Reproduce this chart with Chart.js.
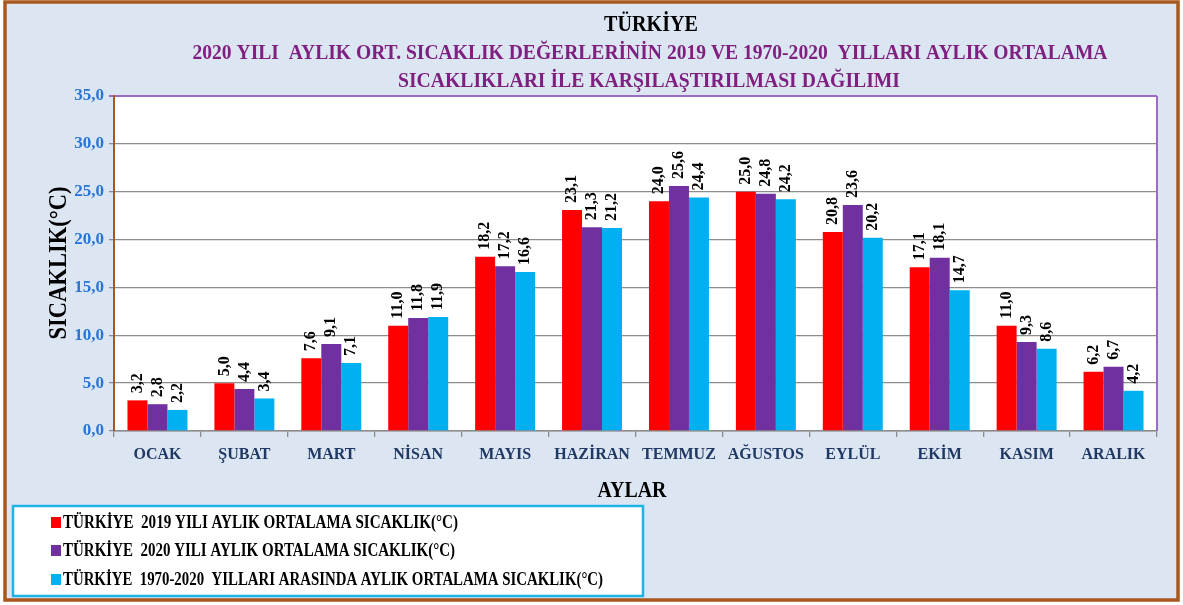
<!DOCTYPE html>
<html>
<head>
<meta charset="utf-8">
<script src="https://cdn.jsdelivr.net/npm/chart.js@4/dist/chart.umd.min.js"></script>
<style>
html,body{margin:0;padding:0;background:#fff;}
canvas{display:block;}
</style>
</head>
<body>
<canvas id="c" width="1183" height="605"></canvas>
<script>
const categories = ['OCAK','ŞUBAT','MART','NİSAN','MAYIS','HAZİRAN','TEMMUZ','AĞUSTOS','EYLÜL','EKİM','KASIM','ARALIK'];
const values2019 = [3.2,5.0,7.6,11.0,18.2,23.1,24.0,25.0,20.8,17.1,11.0,6.2];
const values2020 = [2.8,4.4,9.1,11.8,17.2,21.3,25.6,24.8,23.6,18.1,9.3,6.7];
const valuesNormal = [2.2,3.4,7.1,11.9,16.6,21.2,24.4,24.2,20.2,14.7,8.6,4.2];
const seriesNames = [
  'TÜRKİYE  2019 YILI AYLIK ORTALAMA SICAKLIK(°C)',
  'TÜRKİYE  2020 YILI AYLIK ORTALAMA SICAKLIK(°C)',
  'TÜRKİYE  1970-2020  YILLARI ARASINDA AYLIK ORTALAMA SICAKLIK(°C)'
];
const seriesColors = ['#ff0000','#7030a0','#00b0f0'];
const titleMain = 'TÜRKİYE';
const titleLine1 = '2020 YILI  AYLIK ORT. SICAKLIK DEĞERLERİNİN 2019 VE 1970-2020  YILLARI AYLIK ORTALAMA';
const titleLine2 = 'SICAKLIKLARI İLE KARŞILAŞTIRILMASI DAĞILIMI';
const yTitle = 'SICAKLIK(°C)';
const xTitle = 'AYLAR';

const SERIF = '"Liberation Serif", "Times New Roman", serif';
const fmt = v => v.toFixed(1).replace('.', ',');

function drawFit(ctx, text, x, y, font, width, color, align, rot) {
  ctx.save();
  ctx.font = font;
  ctx.fillStyle = color;
  ctx.textBaseline = 'middle';
  ctx.textAlign = align || 'center';
  const w = ctx.measureText(text).width;
  ctx.translate(x, y);
  if (rot) ctx.rotate(rot);
  ctx.scale(width / w, 1);
  ctx.fillText(text, 0, 0);
  ctx.restore();
}

const framePlugin = {
  id: 'frame',
  beforeDraw(chart) {
    const ctx = chart.ctx, a = chart.chartArea;
    ctx.save();
    ctx.fillStyle = '#ffffff';
    ctx.fillRect(0, 0, chart.width, chart.height);
    ctx.fillStyle = '#dce6f2';
    ctx.fillRect(5, 2, 1173, 598);
    ctx.strokeStyle = '#a9571c';
    ctx.lineWidth = 3.5;
    ctx.strokeRect(5, 2, 1173, 598);
    ctx.fillStyle = '#ffffff';
    ctx.fillRect(a.left, a.top, a.right - a.left, a.bottom - a.top);
    ctx.restore();
  },
  afterDatasetsDraw(chart) {
    const ctx = chart.ctx;
    ctx.save();
    ctx.font = 'bold 16px ' + SERIF;
    ctx.fillStyle = '#000';
    ctx.textAlign = 'left';
    ctx.textBaseline = 'middle';
    chart.data.datasets.forEach((ds, di) => {
      const meta = chart.getDatasetMeta(di);
      meta.data.forEach((bar, i) => {
        ctx.save();
        ctx.translate(bar.x, bar.y - 7);
        ctx.rotate(-Math.PI / 2);
        ctx.fillText(fmt(ds.data[i]), 0, 0);
        ctx.restore();
      });
    });
    ctx.restore();
  },
  afterDraw(chart) {
    const ctx = chart.ctx, a = chart.chartArea;
    ctx.save();
    ctx.strokeStyle = '#9b6cc4';
    ctx.lineWidth = 2;
    ctx.beginPath();
    ctx.moveTo(a.right, a.top);
    ctx.lineTo(a.right, a.bottom);
    ctx.stroke();
    ctx.restore();
    // titles
    drawFit(ctx, titleMain, 651, 25, 'bold 24px ' + SERIF, 94, '#000');
    drawFit(ctx, titleLine1, 650, 53, 'bold 22px ' + SERIF, 915, '#7f1f80');
    drawFit(ctx, titleLine2, 649, 81, 'bold 22px ' + SERIF, 502, '#7f1f80');
    drawFit(ctx, yTitle, 59, 263, 'bold 26px ' + SERIF, 153, '#000', 'center', -Math.PI / 2);
    drawFit(ctx, xTitle, 632, 491, 'bold 24px ' + SERIF, 69, '#000');
    // legend
    ctx.save();
    ctx.fillStyle = '#ffffff';
    ctx.fillRect(13, 506, 630, 90);
    ctx.strokeStyle = '#1fb4e6';
    ctx.lineWidth = 2.5;
    ctx.strokeRect(13, 506, 630, 90);
    ctx.restore();
    const rows = [522, 550, 579];
    const widths = [395, 392, 540];
    chart.data.datasets.forEach((ds, i) => {
      ctx.fillStyle = ds.backgroundColor;
      ctx.fillRect(51, rows[i] - 5, 10, 11);
      drawFit(ctx, ds.label, 63, rows[i] + 1, 'bold 18px ' + SERIF, widths[i], '#000', 'left');
    });
  }
};

new Chart(document.getElementById('c'), {
  type: 'bar',
  data: {
    labels: categories,
    datasets: [
      { label: seriesNames[0], data: values2019, backgroundColor: seriesColors[0] },
      { label: seriesNames[1], data: values2020, backgroundColor: seriesColors[1] },
      { label: seriesNames[2], data: valuesNormal, backgroundColor: seriesColors[2] }
    ]
  },
  options: {
    responsive: false,
    animation: false,
    devicePixelRatio: 1,
    layout: { padding: { left: 0, top: 96, right: 26, bottom: 0 } },
    datasets: { bar: { categoryPercentage: 0.69, barPercentage: 1.0 } },
    plugins: { legend: { display: false }, title: { display: false }, tooltip: { enabled: false } },
    scales: {
      x: {
        afterFit: s => { s.height = 174; },
        grid: { offset: true, drawOnChartArea: false, tickLength: 6, color: '#8c8c8c', lineWidth: 1.3 },
        border: { color: '#8c8c8c', width: 1.5 },
        ticks: { color: '#1f3864', font: { family: SERIF, weight: 'bold', size: 16 }, padding: 8, maxRotation: 0, autoSkip: false }
      },
      y: {
        min: 0, max: 35,
        afterFit: s => { s.width = 114; },
        grid: {
          color: c => (c.tick && c.tick.value === 35) ? '#9b6cc4' : '#8c8c8c',
          lineWidth: c => (c.tick && c.tick.value === 35) ? 2 : 1.3,
          tickLength: 5
        },
        border: { color: '#a9571c', width: 2 },
        ticks: { stepSize: 5, color: '#2a74d4', padding: 5, font: { family: SERIF, weight: 'bold', size: 17 }, callback: v => fmt(v) }
      }
    }
  },
  plugins: [framePlugin]
});
</script>
</body>
</html>
